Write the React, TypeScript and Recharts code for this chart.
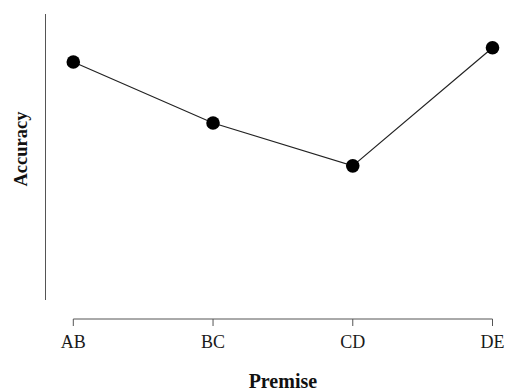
import { LineChart, Line, XAxis, YAxis, Label } from 'recharts';

const premises = ['AB', 'BC', 'CD', 'DE'];
const accuracy = [83.2, 61.9, 46.9, 88.2];

const data = premises.map((p, i) => ({ premise: p, accuracy: accuracy[i] }));

const serif = '"Liberation Serif", "Times New Roman", serif';

export default function App() {
  return (
    <div style={{ position: 'absolute', left: 0, top: 0, background: '#fff' }}>
      <LineChart
        width={506}
        height={391}
        data={data}
        margin={{ top: 14, right: 13.5, left: 0, bottom: 0 }}
      >
        <XAxis
          dataKey="premise"
          height={72}
          padding={{ left: 27.8, right: 0 }}
          axisLine={{ stroke: '#555', strokeWidth: 1, strokeDasharray: '0 27.8 419.2 1000' }}
          tickLine={{ stroke: '#555', strokeWidth: 1 }}
          tickSize={7}
          tickMargin={9.5}
          tick={{ fill: '#1a1a1a', fontSize: 18, fontFamily: serif }}
        >
          <Label
            content={({ viewBox }: any) => (
              <text
                x={viewBox.x + 27.8 + (viewBox.width - 27.8) / 2}
                y={388}
                textAnchor="middle"
                fontFamily={serif}
                fontWeight="bold"
                fontSize={20}
                fill="#111"
              >
                Premise
              </text>
            )}
          />
        </XAxis>
        <YAxis
          width={45.5}
          domain={[0, 100]}
          padding={{ top: 0, bottom: 19 }}
          tick={false}
          tickLine={false}
          axisLine={{ stroke: '#555', strokeWidth: 1, strokeDasharray: '286 1000' }}
        >
          <Label
            content={() => (
              <text
                x={20.5}
                y={149}
                transform="rotate(-90, 20.5, 149)"
                textAnchor="middle"
                dominantBaseline="central"
                fontFamily={serif}
                fontWeight="bold"
                fontSize={18.5}
                fill="#111"
              >
                Accuracy
              </text>
            )}
          />
        </YAxis>
        <Line
          type="linear"
          dataKey="accuracy"
          stroke="#222"
          strokeWidth={1.2}
          dot={{ r: 6.8, fill: '#000', stroke: 'none' }}
          activeDot={false}
          isAnimationActive={false}
        />
      </LineChart>
    </div>
  );
}
